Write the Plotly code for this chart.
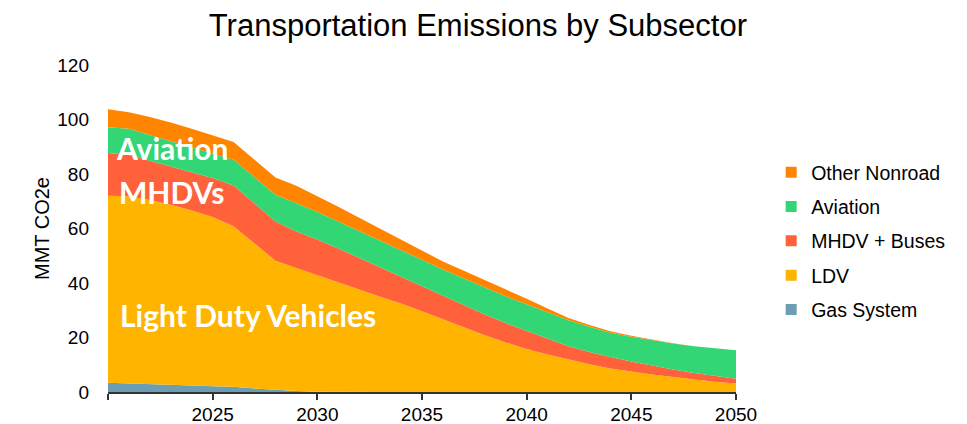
import plotly.graph_objects as go

years = list(range(2020, 2051))

gas_system = [3.4, 3.2, 3.0, 2.7, 2.4, 2.1, 1.9, 1.3, 0.8, 0.4, 0.1,
              0, 0, 0, 0, 0, 0, 0, 0, 0, 0,
              0, 0, 0, 0, 0, 0, 0, 0, 0, 0]
ldv = [68.6, 68.6, 67.5, 66.0, 64.2, 62.1, 58.9, 53.2, 47.4, 45.1, 42.7,
       40.2, 37.6, 35.0, 32.5, 29.6, 26.6, 23.6, 20.8, 18.2, 15.8,
       13.8, 11.9, 10.2, 8.6, 7.4, 6.4, 5.5, 4.6, 3.8, 3.1]
mhdv_buses = [15.7, 15.2, 14.4, 14.1, 14.0, 14.3, 15.0, 14.7, 14.4, 13.4, 13.2,
              12.5, 11.6, 10.7, 9.7, 9.2, 8.7, 8.2, 7.6, 7.1, 6.6,
              5.7, 4.9, 4.5, 4.2, 3.8, 3.3, 2.8, 2.4, 2.1, 1.8]
aviation = [9.5, 9.6, 9.4, 9.2, 9.2, 9.0, 9.4, 9.6, 9.8, 10.4, 10.1,
            9.9, 9.8, 9.8, 9.8, 9.7, 9.7, 9.8, 9.8, 9.8, 9.8,
            9.7, 9.5, 9.2, 8.9, 9.1, 9.3, 9.5, 9.8, 10.1, 10.4]
other_nonroad = [6.6, 6.1, 6.6, 6.9, 6.8, 6.7, 6.5, 6.4, 6.3, 6.4, 5.9,
                 5.4, 4.9, 4.4, 3.8, 3.2, 2.9, 2.9, 2.9, 2.5, 2.0,
                 1.4, 0.9, 0.7, 0.6, 0.3, 0.2, 0.1, 0, 0, 0]

series_names = ["Gas System", "LDV", "MHDV + Buses", "Aviation", "Other Nonroad"]
series_values = [gas_system, ldv, mhdv_buses, aviation, other_nonroad]
series_colors = ["#6B9EB2", "#FFB400", "#FF613B", "#33D675", "#FF8500"]

x_tickvals = [2020, 2025, 2030, 2035, 2040, 2045, 2050]
x_ticktext = ["", "2025", "2030", "2035", "2040", "2045", "2050"]

fig = go.Figure()
for name, vals, col in zip(series_names, series_values, series_colors):
    fig.add_trace(go.Scatter(
        x=years, y=vals, name=name, mode="lines", stackgroup="one",
        line=dict(width=0, color=col), fillcolor=col, showlegend=False,
        hoverinfo="x+y+name"))

# legend entries (top to bottom as in the reference)
for name, col in reversed(list(zip(series_names, series_colors))):
    fig.add_trace(go.Scatter(
        x=[None], y=[None], mode="markers", name=name, legendgroup=name,
        marker=dict(symbol="square", size=11, color=col)))

label_font = dict(family="Lato", size=30, color="white", weight="bold")
fig.add_annotation(x=2020.3, y=89.6, text="Aviation", showarrow=False,
                   xanchor="left", yanchor="middle", font=label_font)
fig.add_annotation(x=2020.45, y=73.5, text="MHDVs", showarrow=False,
                   xanchor="left", yanchor="middle", font=label_font)
fig.add_annotation(x=2020.5, y=28.4, text="Light Duty Vehicles", showarrow=False,
                   xanchor="left", yanchor="middle", font=label_font)

# the page body adds an 8px offset, so the figure is sized to the visible area
fig.update_layout(
    width=959, height=416,
    margin=dict(l=100, r=231, t=57, b=31.5),
    paper_bgcolor="white", plot_bgcolor="white",
    font=dict(family="Liberation Sans, Arial", size=19, color="#000000"),
    title=dict(text="Transportation Emissions by Subsector", x=0.490, xref="container",
               y=0.96, yref="container", xanchor="center", yanchor="middle",
               font=dict(size=31, color="#000000")),
    legend=dict(x=1.056, xanchor="left", y=0.731, yanchor="top",
                traceorder="grouped", tracegroupgap=6,
                font=dict(size=19.5), bgcolor="rgba(0,0,0,0)"),
    xaxis=dict(range=[2020, 2050], tickvals=x_tickvals, ticktext=x_ticktext,
               automargin=False, ticklabelstandoff=-2,
               showgrid=False, zeroline=False, showline=True, linecolor="#333333",
               linewidth=2, ticks="outside", ticklen=6, tickwidth=1.5, tickcolor="#333333"),
    yaxis=dict(range=[0, 120], dtick=20, showgrid=False, zeroline=False, showline=False,
               automargin=False, ticks="", ticklabelstandoff=18,
               title=dict(text="MMT CO2e", standoff=2, font=dict(size=20))),
)

fig.write_html("out.html")
